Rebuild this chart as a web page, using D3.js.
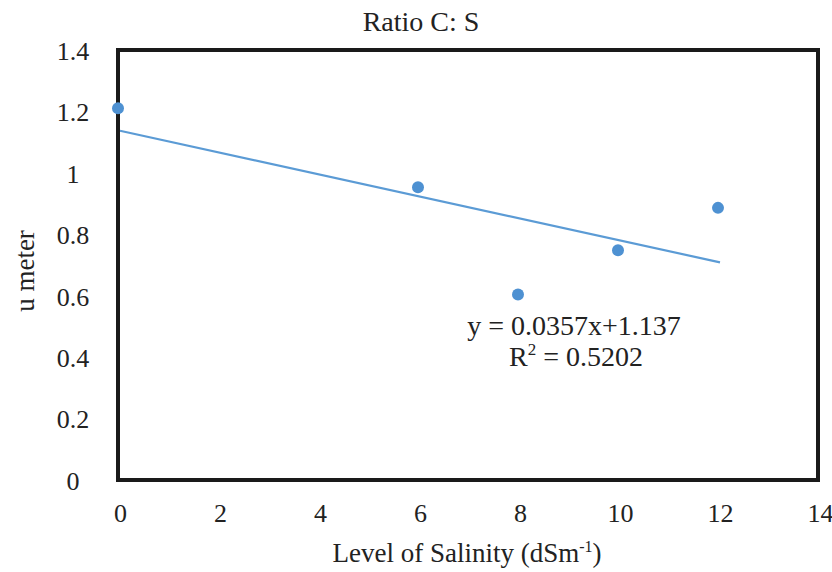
<!DOCTYPE html>
<html>
<head>
<meta charset="utf-8">
<script src="https://cdn.jsdelivr.net/npm/d3@7"></script>
<style>
  body { margin: 0; background: #fff; }
  svg text { font-family: 'Liberation Serif', 'Times New Roman', serif !important; fill: #222; }
</style>
</head>
<body>
<div id="chart"></div>
<script>
// data
var salinity = [0, 6, 8, 10, 12];
var uMeter = [1.21, 0.953, 0.604, 0.748, 0.886];
var xTicks = [0, 2, 4, 6, 8, 10, 12, 14];
var yTicks = [0, 0.2, 0.4, 0.6, 0.8, 1, 1.2, 1.4];
var trendSlope = -0.0357, trendIntercept = 1.137;
var trendRange = [0, 12];

var width = 832, height = 572;
var margin = {top: 50, right: 14, bottom: 92, left: 118};

var svg = d3.select("#chart")
  .append("svg")
  .attr("width", width)
  .attr("height", height);

var xScale = d3.scaleLinear()
  .domain([0, 14])
  .range([margin.left, width - margin.right]);

var yScale = d3.scaleLinear()
  .domain([0, 1.4])
  .range([height - margin.bottom, margin.top]);

// title
svg.append("text")
  .attr("x", 421)
  .attr("y", 31)
  .style("text-anchor", "middle")
  .style("font-size", "28px")
  .text("Ratio C: S");

// x tick labels
svg.append("g")
  .attr("transform", "translate(0," + (height - margin.bottom) + ")")
  .call(d3.axisBottom(xScale).tickValues(xTicks).tickSize(0).tickPadding(24).tickFormat(d3.format("d")))
  .call(function(g) { g.select(".domain").remove(); })
  .selectAll("text")
  .attr("dx", "2px")
  .style("font-size", "26px")
  .style("fill", "#222");

// y tick labels
svg.append("g")
  .attr("transform", "translate(" + margin.left + ",0)")
  .call(d3.axisLeft(yScale).tickValues(yTicks).tickSize(0).tickPadding(30)
    .tickFormat(function(d) { return d === 0 || d === 1 ? d3.format("d")(d) : d3.format(".1f")(d); }))
  .call(function(g) { g.select(".domain").remove(); })
  .selectAll("text")
  .style("text-anchor", "middle")
  .attr("dx", "-15px")
  .attr("dy", "0.36em")
  .style("font-size", "26px")
  .style("fill", "#222");

// axis titles
var xTitle = svg.append("text")
  .attr("x", 467)
  .attr("y", 562)
  .style("text-anchor", "middle")
  .style("font-size", "27px");
xTitle.append("tspan").text("Level of Salinity (dSm");
xTitle.append("tspan").attr("dy", "-10").style("font-size", "16px").text("-1");
xTitle.append("tspan").attr("dy", "10").text(")");

svg.append("text")
  .attr("transform", "translate(34," + 271 + ") rotate(-90)")
  .style("text-anchor", "middle")
  .style("font-size", "27px")
  .text("u meter");

// trend line
var trendData = trendRange.map(function(x) { return {x: x, y: trendSlope * x + trendIntercept}; });
svg.append("path")
  .datum(trendData)
  .attr("fill", "none")
  .attr("stroke", "#5b9bd5")
  .attr("stroke-width", 2.2)
  .attr("d", d3.line()
    .x(function(d) { return xScale(d.x) + 2; })
    .y(function(d) { return yScale(d.y); }));

// plot border
svg.append("rect")
  .attr("x", margin.left)
  .attr("y", margin.top)
  .attr("width", width - margin.left - margin.right)
  .attr("height", height - margin.top - margin.bottom)
  .attr("fill", "none")
  .attr("stroke", "#1a1a1a")
  .attr("stroke-width", 4);

// points
svg.selectAll(".dot")
  .data(salinity)
  .enter()
  .append("circle")
  .attr("class", "dot")
  .attr("cx", function(d) { return xScale(d); })
  .attr("cy", function(d, i) { return yScale(uMeter[i]); })
  .attr("r", 6)
  .attr("fill", "#4e91d2");

// equation
svg.append("text")
  .attr("x", 574)
  .attr("y", 335)
  .style("text-anchor", "middle")
  .style("font-size", "28px")
  .text("y = 0.0357x+1.137");

var r2 = svg.append("text")
  .attr("x", 576)
  .attr("y", 366)
  .style("text-anchor", "middle")
  .style("font-size", "28px");
r2.append("tspan").text("R");
r2.append("tspan").attr("dy", "-11").style("font-size", "17px").text("2");
r2.append("tspan").attr("dy", "11").text(" = 0.5202");
</script>
</body>
</html>
